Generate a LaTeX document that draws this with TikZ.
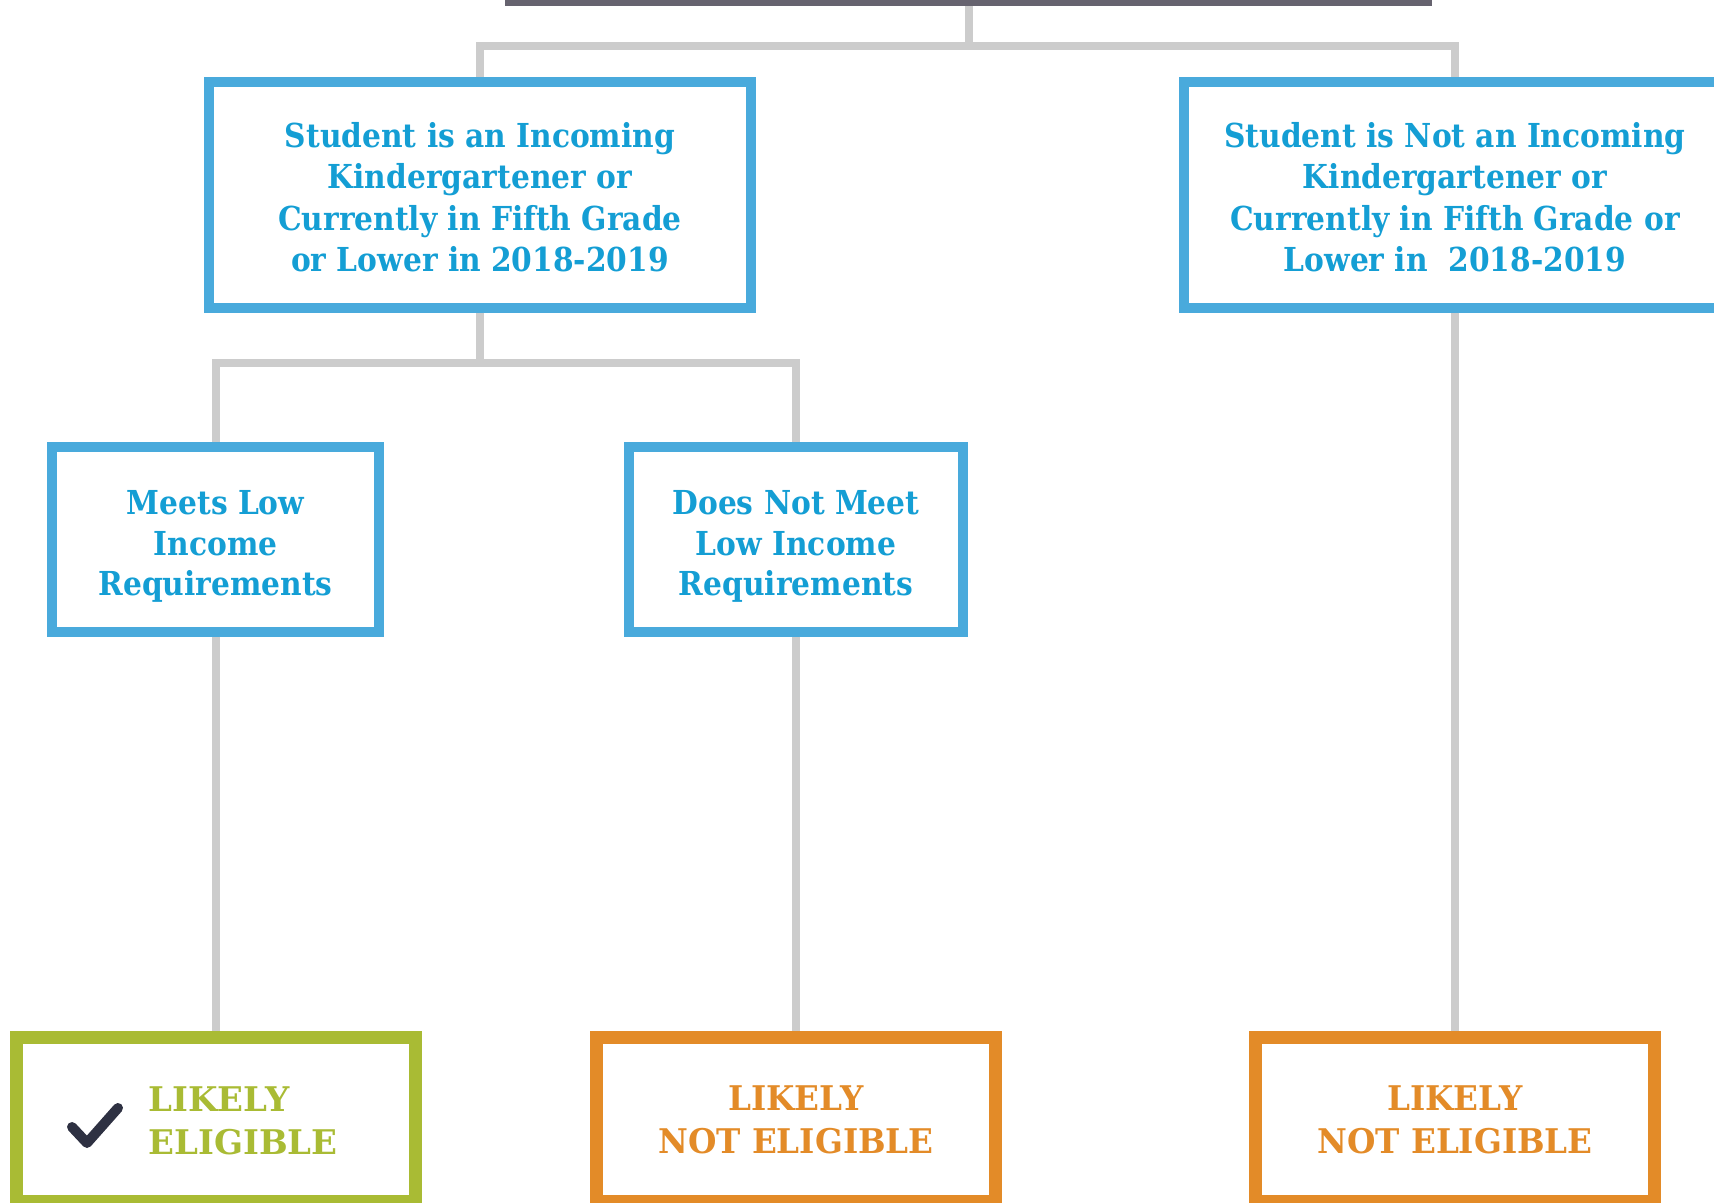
\documentclass[tikz,border=0pt]{standalone}
\usepackage{fontspec}
\setmainfont{DejaVu Serif}
\newfontfamily\qfont{DejaVu Serif}[FakeStretch=0.9]
\newfontfamily\rfont{DejaVu Serif}[FakeStretch=0.96]
\usetikzlibrary{positioning}
\definecolor{boxblue}{RGB}{73,170,220}
\definecolor{textblue}{RGB}{20,158,212}
\definecolor{linkgray}{RGB}{204,204,204}
\definecolor{topgray}{RGB}{102,99,111}
\definecolor{resgreen}{RGB}{169,187,52}
\definecolor{resorange}{RGB}{227,139,40}
\definecolor{checkdark}{RGB}{46,49,66}
\begin{document}
\begin{tikzpicture}[x=0.5pt,y=-0.5pt,
    question/.style={draw=boxblue,line width=4.6pt,text=textblue,align=center,inner sep=0pt,
      font=\qfont\bfseries\fontsize{16.5}{20.75}\selectfont},
    result/.style={draw=resorange,line width=6.5pt,text=resorange,align=center,inner sep=0pt,
      minimum width=199.5pt,minimum height=82pt,font=\rfont\bfseries\fontsize{17}{21.5}\selectfont},
    link/.style={draw=linkgray,line width=4pt}]
  \useasboundingbox (0,0) rectangle (1714,1203);
  % top of the tree
  \node[fill=topgray,inner sep=0pt,minimum width=463.5pt,minimum height=13pt] (top) at (968.5,-7) {};
  % questions
  \node[question,minimum width=271pt,minimum height=113pt] (grade) at (480,195)
    {\rule{0pt}{14.5pt}Student is an Incoming\\Kindergartener or\\Currently in Fifth Grade\\or Lower in 2018-2019};
  \node[question,minimum width=271pt,minimum height=113pt] (nograde) at (1455,195)
    {\rule{0pt}{14.5pt}Student is Not an Incoming\\Kindergartener or\\Currently in Fifth Grade or\\Lower in\ \ 2018-2019};
  \node[question,minimum width=163.5pt,minimum height=92.5pt,
    font=\qfont\bfseries\fontsize{16.5}{20.25}\selectfont] (lowinc) at (215.5,539.5)
    {\rule{0pt}{19pt}Meets Low\\Income\\Requirements};
  \node[question,minimum width=167pt,minimum height=92.5pt,
    font=\qfont\bfseries\fontsize{16.5}{20.25}\selectfont] (notlowinc) at (796,539.5)
    {\rule{0pt}{19pt}Does Not Meet\\Low Income\\Requirements};
  % results
  \node[result,draw=resgreen] (elig) at (215.5,1119.5) {};
  \node[anchor=west,align=left,inner sep=0pt,text=resgreen,
    font=\bfseries\fontsize{17}{21.5}\selectfont] (eligtxt) at (148,1121) {LIKELY\\ELIGIBLE};
  \draw[checkdark,line width=5pt,line cap=round,line join=round]
    (72,1127) -- (87,1143) -- (118,1108);
  \node[result] (notelig) at (796,1119.5) {LIKELY\\NOT ELIGIBLE};
  \node[result] (noteligb) at (1455,1119.5) {LIKELY\\NOT ELIGIBLE};
  % connectors
  \draw[link] (top.south) -- ++(0,40) coordinate (split);
  \draw[link] (split) -| (grade.north);
  \draw[link] (split) -| (nograde.north);
  \draw[link] (grade.south) -- ++(0,50) coordinate (splitb);
  \draw[link] (splitb) -| (lowinc.north);
  \draw[link] (splitb) -| (notlowinc.north);
  \draw[link] (lowinc.south) -- (elig.north);
  \draw[link] (notlowinc.south) -- (notelig.north);
  \draw[link] (nograde.south) -- (noteligb.north);
\end{tikzpicture}
\end{document}
